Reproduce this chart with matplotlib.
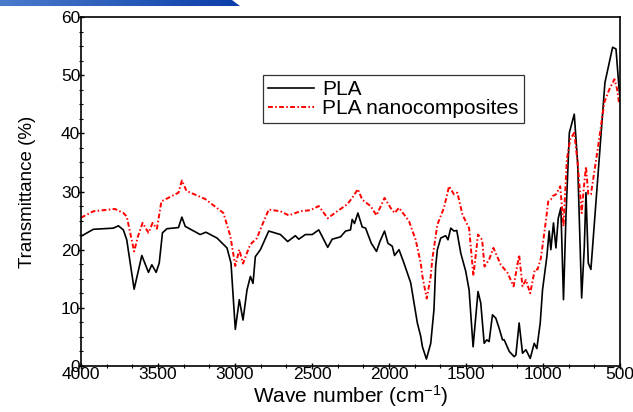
import numpy as np
import matplotlib
matplotlib.use('Agg')
import matplotlib.pyplot as plt
from matplotlib.ticker import MultipleLocator
from matplotlib.colors import LinearSegmentedColormap
from matplotlib.patches import Polygon

plt.rcParams['font.family'] = ['Liberation Sans', 'DejaVu Sans']
plt.rcParams['mathtext.fontset'] = 'custom'
plt.rcParams['mathtext.rm'] = 'Liberation Sans'
plt.rcParams['mathtext.it'] = 'Liberation Sans'

# PLA (black, solid)
pla_wn = [4000, 3920, 3790, 3757, 3725, 3703, 3655, 3605, 3562, 3540, 3512, 3492, 3471, 3442,
          3367, 3345, 3323, 3226, 3189, 3117, 3052, 3026, 2998, 2972, 2948, 2922, 2900, 2883,
          2868, 2835, 2781, 2705, 2658, 2608, 2586, 2543, 2499, 2456, 2398, 2369, 2315, 2282,
          2250, 2239, 2224, 2202, 2174, 2152, 2115, 2081, 2059, 2029, 2007, 1979, 1964, 1935,
          1903, 1859, 1816, 1794, 1783, 1757, 1729, 1708, 1697, 1686, 1664, 1632, 1617, 1599,
          1578, 1560, 1534, 1502, 1480, 1454, 1422, 1404, 1382, 1365, 1350, 1328, 1306, 1285,
          1263, 1252, 1219, 1187, 1176, 1155, 1133, 1111, 1083, 1057, 1040, 1018, 1003, 975,
          960, 949, 932, 916, 901, 884, 867, 851, 829, 797, 775, 749, 732, 721, 706, 689, 645,
          598, 548, 526, 505, 500]
pla_t = [22.3, 23.5, 23.7, 24.1, 23.4, 21.7, 13.2, 19.0, 16.1, 17.4, 16.1, 17.7, 22.9, 23.6,
         23.8, 25.6, 24.0, 22.6, 23.0, 22.0, 20.3, 17.7, 6.3, 11.4, 7.9, 13.1, 15.4, 14.2,
         18.8, 20.0, 23.2, 22.6, 21.4, 22.4, 21.8, 22.6, 22.6, 23.4, 20.4, 21.8, 22.2, 23.2,
         23.4, 25.2, 24.5, 26.3, 23.9, 23.7, 21.1, 19.7, 21.4, 23.2, 21.1, 20.6, 19.0, 20.0,
         17.7, 14.3, 7.4, 5.1, 3.3, 1.2, 3.9, 9.7, 17.1, 20.0, 22.0, 22.4, 21.7, 23.7,
         23.2, 23.3, 19.4, 16.3, 13.1, 3.3, 12.8, 10.8, 3.9, 4.5, 4.2, 8.8, 8.2, 6.5,
         4.5, 4.5, 2.5, 1.6, 1.9, 7.4, 2.2, 2.8, 1.3, 3.9, 3.0, 7.4, 13.1, 18.8,
         23.2, 20.0, 24.6, 20.3, 25.4, 27.2, 11.4, 25.7, 40.1, 43.3, 34.9, 11.7, 20.3, 29.8,
         17.7, 16.6, 32.1, 48.7, 54.8, 54.5, 47.3, 46.4]

# PLA nanocomposites (red, dash-dot)
nano_wn = [4000, 3920, 3780, 3725, 3703, 3655, 3630, 3600, 3562, 3535, 3507, 3478, 3367, 3345,
           3315, 3193, 3075, 3030, 2998, 2972, 2948, 2910, 2900, 2857, 2835, 2781, 2705, 2651,
           2575, 2510, 2456, 2398, 2336, 2271, 2239, 2202, 2174, 2120, 2081, 2029, 1990, 1964,
           1935, 1870, 1827, 1794, 1783, 1755, 1729, 1719, 1686, 1643, 1610, 1578, 1556, 1523,
           1480, 1452, 1422, 1395, 1380, 1350, 1322, 1274, 1230, 1191, 1155, 1133, 1111, 1083,
           1053, 1035, 1014, 981, 966, 949, 938, 916, 888, 867, 845, 823, 797, 775, 749, 736,
           721, 706, 689, 645, 602, 569, 536, 519, 505]
nano_t = [25.5, 26.6, 27.0, 26.3, 25.7, 19.7, 22.3, 24.6, 22.9, 24.6, 23.6, 28.3, 29.8, 31.9,
          30.1, 28.7, 26.3, 22.3, 17.2, 20.0, 17.6, 20.3, 20.9, 22.0, 23.5, 26.9, 26.6, 25.9,
          26.6, 26.8, 27.5, 25.4, 26.6, 27.8, 28.9, 30.4, 28.6, 27.5, 25.9, 28.9, 27.2, 26.3,
          27.2, 24.9, 21.7, 17.7, 15.4, 11.6, 15.4, 18.3, 24.3, 27.2, 30.9, 29.5, 29.8, 26.0,
          23.7, 15.5, 22.6, 21.7, 17.1, 18.3, 20.3, 17.4, 16.0, 13.7, 19.1, 13.7, 14.8, 12.5,
          16.6, 16.6, 18.5, 25.0, 28.3, 28.6, 29.2, 29.5, 30.9, 24.0, 35.5, 39.0, 40.1, 34.9,
          26.3, 30.3, 34.3, 29.5, 29.5, 37.2, 45.3, 47.6, 49.3, 47.6, 45.0]

fig = plt.figure(figsize=(6.33, 4.12), dpi=100)
ax = fig.add_axes([81/633, 46/412, 539/633, 349/412])

ax.plot(pla_wn, pla_t, color='black', lw=1.2, label='PLA')
ax.plot(nano_wn, nano_t, color='red', lw=1.4, linestyle=(0, (2.5, 1.2, 0.8, 1.2)),
        label='PLA nanocomposites')

ax.set_xlim(4000, 500)
ax.set_ylim(0, 60)
ax.xaxis.set_major_locator(MultipleLocator(500))
ax.xaxis.set_minor_locator(MultipleLocator(500/3))
ax.yaxis.set_major_locator(MultipleLocator(10))
ax.yaxis.set_minor_locator(MultipleLocator(2.5))
ax.tick_params(which='major', direction='inout', length=5, width=1.0, pad=-2, labelsize=12.5)
ax.tick_params(which='minor', direction='inout', length=3, width=0.8)
for s in ax.spines.values():
    s.set_linewidth(1.2)

ax.set_xlabel('Wave number (cm$^{-1}$)', fontsize=15, labelpad=1)
ax.set_ylabel('Transmittance (%)', fontsize=13.5, labelpad=18)

leg = ax.legend(loc='upper left', bbox_to_anchor=((263-81)/539, (366-75)/349),
                borderaxespad=0, fontsize=15, frameon=True, fancybox=False,
                edgecolor='black', handlelength=2.2, handletextpad=0.4,
                labelspacing=0.0, borderpad=0.25)
leg.get_frame().set_linewidth(0.9)

# blue header strip at the top left
bar = fig.add_axes([0, 1-6/412, 240/633, 6/412])
bar.set_axis_off()
cmap = LinearSegmentedColormap.from_list('hdr', ['#4a7bcc', '#0a3ea8'])
img = bar.imshow(np.linspace(0, 1, 256)[None, :], aspect='auto', cmap=cmap,
                 extent=[0, 240, 0, 6])
bar.set_xlim(0, 240)
bar.set_ylim(0, 6)
clip = Polygon([(0, 0), (0, 6), (232, 6), (240, 0)], closed=True, transform=bar.transData)
img.set_clip_path(clip)

fig.savefig('out.png', dpi=100)
